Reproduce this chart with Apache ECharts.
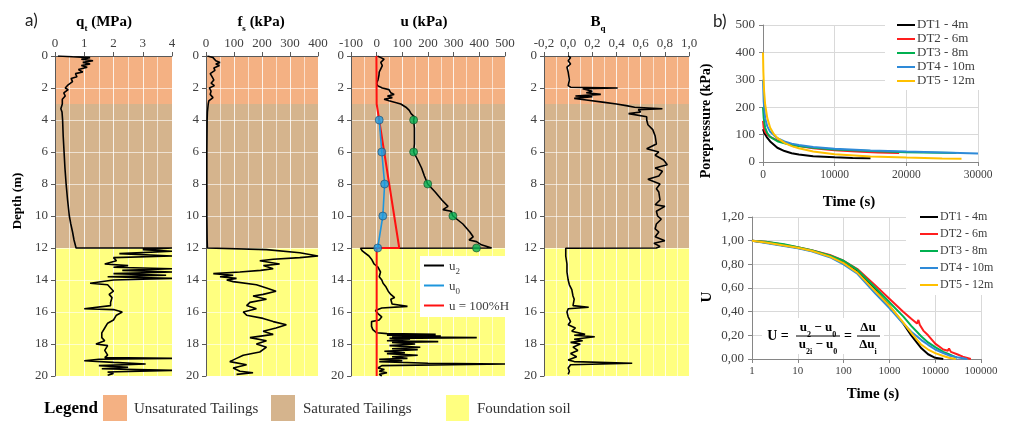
<!DOCTYPE html>
<html><head><meta charset="utf-8">
<script src="https://cdn.jsdelivr.net/npm/echarts@6/dist/echarts.min.js"></script>
<style>html,body{margin:0;padding:0;background:#fff}#c{width:1024px;height:432px}</style>
</head><body><div id="c"></div>
<script>
// ---------- DATA ----------
// Panel a) CPTu profiles: [depth (m), value]
const qtProfile = [[0,0.1],[0.05,0.6],[0.1,1.2],[0.2,0.9],[0.3,1.3],[0.4,0.95],[0.5,1.2],[0.6,0.9],[0.7,1.1],[0.85,0.8],[1.0,0.95],[1.1,0.7],[1.3,0.75],[1.4,0.55],[1.6,0.6],[1.8,0.45],[2.0,0.35],[2.1,0.45],[2.3,0.3],[2.5,0.35],[2.7,0.25],[3.0,0.25],[3.3,0.2],[3.5,0.24],[4,0.26],[5,0.28],[6,0.31],[7,0.34],[8,0.38],[9,0.43],[10,0.49],[10.5,0.54],[11,0.6],[11.5,0.65],[12,0.72],[12.0,4.0],[12.1,3.0],[12.2,4.0],[12.35,2.2],[12.5,4.0],[12.6,2.0],[12.8,2.1],[13.0,1.7],[13.1,2.5],[13.2,2.0],[13.3,4.0],[13.4,2.3],[13.5,4.0],[13.6,2.0],[13.7,3.8],[13.8,1.8],[13.9,4.0],[14.0,2.0],[14.2,1.2],[14.3,1.8],[14.5,1.9],[14.7,2.0],[14.9,1.85],[15.1,1.95],[15.4,1.9],[15.6,1.9],[15.8,1.0],[15.85,2.0],[16.0,2.3],[16.2,2.1],[16.5,2.0],[16.7,1.8],[17.0,1.7],[17.3,1.6],[17.6,1.6],[17.8,1.7],[18.0,1.4],[18.1,1.8],[18.4,1.7],[18.7,1.8],[18.85,1.7],[18.9,4.0],[18.95,1.5],[19.05,1.0],[19.15,2.0],[19.25,3.1],[19.35,1.5],[19.45,2.5],[19.55,1.6],[19.65,4.0],[19.75,1.8],[19.85,2.0],[19.95,1.8]];
const fsProfile = [[0,5],[0.1,25],[0.2,20],[0.3,35],[0.4,50],[0.5,35],[0.6,48],[0.75,28],[0.9,32],[1.1,15],[1.3,22],[1.5,28],[1.7,18],[1.85,30],[2.0,12],[2.2,18],[2.4,15],[2.6,25],[2.8,10],[3.0,8],[3.5,5],[4,4],[6,3],[8,3],[10,3],[11.5,4],[12,5],[12.1,216],[12.3,335],[12.5,400],[12.6,335],[12.7,240],[12.8,192],[13.0,263],[13.1,205],[13.3,240],[13.4,195],[13.5,121],[13.6,26],[13.7,97],[13.8,50],[13.9,109],[14.0,74],[14.1,97],[14.3,180],[14.5,216],[14.7,250],[14.9,204],[15.0,168],[15.2,216],[15.4,157],[15.6,145],[15.8,180],[16.0,133],[16.2,145],[16.4,204],[16.6,240],[16.8,287],[17.0,250],[17.2,204],[17.4,240],[17.6,157],[17.8,216],[18.0,180],[18.2,216],[18.5,192],[18.7,133],[18.9,109],[19.1,85],[19.3,145],[19.5,97],[19.7,121],[19.8,168],[19.9,109]];
const u2Profile = [[0,3],[0.1,16],[0.2,29],[0.4,16],[0.6,22],[0.8,16],[1.0,10],[1.2,9],[1.5,5],[1.7,0],[1.85,3],[2.0,22],[2.1,48],[2.3,55],[2.4,68],[2.5,42],[2.6,61],[2.7,29],[2.8,48],[3.0,94],[3.2,114],[3.4,127],[3.6,134],[3.8,147],[4.0,144],[4.5,147],[5.0,147],[5.5,147],[6.0,144],[6.5,160],[7.0,175],[7.5,186],[8.0,199],[8.5,228],[9.0,254],[9.4,278],[9.6,258],[9.7,290],[10.0,297],[10.5,336],[11.0,363],[11.3,376],[11.5,360],[11.6,389],[11.8,408],[12.0,448],[12.02,-63],[12.2,-55],[12.5,-30],[12.7,-20],[13.0,-10],[13.2,5],[13.5,15],[13.8,10],[14.0,20],[14.2,25],[14.4,35],[14.7,45],[14.9,55],[15.1,70],[15.2,55],[15.5,60],[15.65,120],[15.75,20],[15.9,-5],[16.1,5],[16.3,20],[16.5,10],[16.6,-20],[16.9,-20],[17.1,-15],[17.3,0],[17.35,40],[17.4,230],[17.45,40],[17.5,250],[17.55,60],[17.6,390],[17.65,50],[17.7,130],[17.8,40],[17.85,240],[17.9,60],[18.0,150],[18.1,50],[18.2,170],[18.3,60],[18.35,160],[18.45,30],[18.55,110],[18.6,40],[18.7,160],[18.8,60],[18.9,120],[18.95,10],[19.05,100],[19.1,10],[19.2,200],[19.25,500],[19.35,20],[19.5,5],[19.6,30],[19.7,10],[19.8,40],[19.9,10],[20,20]];
const u0Points = [[4,10],[6,20],[8,31],[10,24],[12,4]];
const u2Points = [[4,144],[6,144],[8,199],[10,297],[12,389]];
const uHydro = [[0,-1],[3,0],[12,88],[12,0],[20,0]];
const bqProfile = [[0,0.0],[0.1,0.02],[0.3,0.0],[0.5,0.02],[0.7,-0.01],[1.0,0.0],[1.5,0.01],[1.85,0.0],[1.95,0.02],[2.0,0.41],[2.05,0.12],[2.2,0.2],[2.3,0.15],[2.4,0.27],[2.5,0.06],[2.55,0.2],[2.65,0.05],[2.75,0.15],[2.9,0.3],[3.0,0.4],[3.1,0.48],[3.2,0.55],[3.3,0.78],[3.35,0.58],[3.5,0.6],[3.6,0.5],[3.8,0.65],[4.0,0.65],[4.3,0.66],[4.6,0.7],[5.0,0.72],[5.5,0.73],[5.8,0.65],[6.0,0.75],[6.2,0.72],[6.5,0.79],[6.8,0.82],[7.0,0.72],[7.2,0.78],[7.5,0.75],[7.7,0.66],[8.0,0.76],[8.3,0.73],[8.5,0.75],[9.0,0.76],[9.3,0.72],[9.4,0.8],[9.7,0.73],[10.0,0.74],[10.2,0.77],[10.5,0.73],[10.8,0.72],[11.0,0.75],[11.3,0.72],[11.55,0.8],[11.7,0.71],[11.9,0.76],[12.0,0.73],[12.02,-0.02],[12.5,-0.02],[13,-0.01],[13.5,-0.01],[14.0,0.0],[14.3,0.01],[14.6,0.03],[15.0,0.04],[15.2,0.05],[15.6,0.04],[15.7,0.17],[15.8,0.0],[16.0,-0.01],[16.3,0.0],[16.6,0.02],[16.8,0.0],[17.0,0.06],[17.2,0.03],[17.4,0.14],[17.45,0.05],[17.55,0.22],[17.7,0.05],[17.8,0.12],[17.9,0.02],[18.0,0.1],[18.2,0.04],[18.4,0.08],[18.6,0.02],[18.8,0.07],[19.0,0.0],[19.1,0.05],[19.2,0.53],[19.3,0.02],[19.5,0.0],[19.7,0.01],[19.9,0.0]];
// Layer boundaries (m)
const layerNames = ['Unsaturated Tailings','Saturated Tailings','Foundation soil'];
const layerTop = [0, 3, 12];
const layerBottom = [3, 12, 20];
// Panel b) dissipation tests
const dtNames = ['DT1 - 4m','DT2 - 6m','DT3 - 8m','DT4 - 10m','DT5 - 12m'];
// [time (s), porepressure (kPa)]
const pp1 = [[0,120],[200,105],[500,92],[1000,75],[2000,52],[3000,40],[4000,32],[5000,27],[7000,21],[10000,17],[12500,15],[15000,14]];
const pp2 = [[0,150],[100,125],[300,110],[600,100],[1000,92],[2000,79],[3000,70],[4000,62],[4300,57],[4600,62],[5000,58],[7000,50],[10000,43],[13000,38],[16000,35],[19000,33]];
const pp3 = [[0,200],[100,160],[300,125],[600,105],[1000,92],[2000,76],[3000,68],[4000,62],[5000,58],[7000,52],[10000,46],[15000,40],[20000,36],[27000,33]];
const pp4 = [[0,300],[100,220],[300,160],[600,130],[1000,110],[2000,87],[3000,75],[4000,67],[5000,62],[7000,55],[10000,48],[15000,42],[20000,38],[25000,35],[30000,31]];
const pp5 = [[0,400],[50,330],[150,260],[300,210],[600,160],[1000,125],[1500,102],[2000,88],[3000,70],[4000,58],[5000,50],[7000,38],[10000,28],[15000,20],[20000,16],[25000,13],[27700,12]];
// [time (s), U]
const U1 = [[1,1],[2,0.985],[5,0.96],[10,0.94],[20,0.915],[50,0.87],[100,0.815],[200,0.74],[500,0.58],[1000,0.45],[2000,0.3],[3000,0.2],[5000,0.09],[7000,0.04],[10000,0.01],[15000,0]];
const U2 = [[1,1],[2,0.99],[5,0.965],[10,0.945],[20,0.92],[50,0.88],[100,0.83],[200,0.76],[500,0.62],[1000,0.51],[2000,0.4],[3000,0.34],[4000,0.3],[4300,0.33],[4600,0.29],[5000,0.3],[5500,0.24],[7000,0.2],[10000,0.13],[15000,0.08],[19000,0.07],[20000,0.09],[22000,0.06],[30000,0.04],[40000,0.02],[60000,0]];
const U3 = [[1,1],[2,0.99],[5,0.97],[10,0.945],[20,0.92],[50,0.875],[100,0.83],[200,0.755],[500,0.6],[1000,0.48],[2000,0.36],[3000,0.28],[5000,0.19],[7000,0.14],[10000,0.1],[15000,0.06],[20000,0.04],[30000,0.01]];
const U4 = [[1,1],[2,0.98],[5,0.955],[10,0.935],[20,0.91],[50,0.86],[100,0.8],[200,0.72],[500,0.55],[1000,0.43],[2000,0.3],[3000,0.23],[5000,0.16],[7000,0.12],[10000,0.08],[15000,0.05],[20000,0.03],[30000,0.015],[50000,0]];
const U5 = [[1,1],[2,0.985],[5,0.96],[10,0.94],[20,0.915],[50,0.865],[100,0.81],[200,0.73],[500,0.57],[1000,0.45],[2000,0.31],[3000,0.22],[5000,0.12],[7000,0.08],[10000,0.05],[15000,0.025],[20000,0.01],[28000,0]];

// ---------- STYLE ----------
const SERIF = 'Liberation Serif';
const layerColors = ['#F4B183','#D5B48D','#FFFF80'];
const dtColors = ['#000000','#FF1E1E','#00B050','#2E8AD8','#FFC000'];
const gridWhite = 'rgba(255,255,255,0.6)';
const axisGrey = '#595959';
const labelGrey = '#404040';
const comma = (v, d) => v.toFixed(d).replace('.', ',');
const swap = arr => arr.map(p => [p[1], p[0]]);

const chart = echarts.init(document.getElementById('c'), null, {renderer: 'canvas'});

const profLefts = [55, 206, 351, 544];
const profWidths = [117, 112, 154, 145];
const profX = [
  {min: 0, max: 4, interval: 1, fmt: v => String(v)},
  {min: 0, max: 400, interval: 100, fmt: v => String(v)},
  {min: -100, max: 500, interval: 100, fmt: v => String(v)},
  {min: -0.2, max: 1.0, interval: 0.2, fmt: v => comma(v, 1)}
];

const grids = [];
const xAxes = [];
const yAxes = [];
const series = [];

profLefts.forEach((l, i) => {
  grids.push({left: l, top: 56, width: profWidths[i], height: 320});
  xAxes.push({
    type: 'value', gridIndex: i, position: 'top', min: profX[i].min, max: profX[i].max, interval: profX[i].interval, z: 3,
    axisLine: {show: true, onZero: false, lineStyle: {color: axisGrey}},
    axisTick: {show: true, length: 4, lineStyle: {color: axisGrey}},
    axisLabel: {margin: 6, fontFamily: SERIF, fontSize: 13, color: labelGrey, formatter: profX[i].fmt},
    splitLine: {show: true, lineStyle: {color: gridWhite}}
  });
  yAxes.push({
    type: 'value', gridIndex: i, inverse: true, min: 0, max: 20, interval: 2, z: 3,
    axisLine: {show: true, onZero: false, lineStyle: {color: axisGrey}},
    axisTick: {show: true, length: 4, lineStyle: {color: axisGrey}},
    axisLabel: {margin: 7, fontFamily: SERIF, fontSize: 13, color: labelGrey},
    splitLine: {show: true, lineStyle: {color: gridWhite}}
  });
  series.push({
    type: 'line', xAxisIndex: i, yAxisIndex: i, data: [], z: 1, silent: true,
    markArea: {silent: true, data: layerTop.map((t, k) => [
      {yAxis: t, itemStyle: {color: layerColors[k], opacity: 1}}, {yAxis: layerBottom[k]}
    ])}
  });
});

const prof = (name, i, data, color, extra) => Object.assign({
  name, type: 'line', xAxisIndex: i, yAxisIndex: i, data: swap(data), symbol: 'none', z: 5,
  lineStyle: {color, width: 1.6}, itemStyle: {color}
}, extra || {});

series.push(prof('qt', 0, qtProfile, '#000'));
series.push(prof('fs', 1, fsProfile, '#000'));
series.push(prof('u2', 2, u2Profile, '#000'));
series.push(prof('u100', 2, uHydro, '#FF1010', {lineStyle: {color: '#FF1010', width: 2}}));
series.push(prof('u0', 2, u0Points, '#1E96DC', {lineStyle: {color: '#1E96DC', width: 1.6}}));
series.push({name: 'u0pts', type: 'scatter', xAxisIndex: 2, yAxisIndex: 2, data: swap(u0Points), symbolSize: 8, z: 6,
  itemStyle: {color: '#1E9BE0', borderColor: '#234a6a', borderWidth: 0.8}});
series.push({name: 'u2pts', type: 'scatter', xAxisIndex: 2, yAxisIndex: 2, data: swap(u2Points), symbolSize: 8, z: 6,
  itemStyle: {color: '#00B050', borderColor: '#1c4a2a', borderWidth: 0.8}});
series.push(prof('Bq', 3, bqProfile, '#000'));

// Panel b grids
grids.push({left: 763, top: 25, width: 215, height: 137});
grids.push({left: 752, top: 217, width: 229, height: 142});
const lightGrid = {show: true, lineStyle: {color: '#D9D9D9'}};
xAxes.push({type: 'value', gridIndex: 4, min: 0, max: 30000, interval: 10000,
  axisLine: {show: true, onZero: false, lineStyle: {color: '#868686'}},
  axisTick: {show: true, length: 4, lineStyle: {color: '#868686'}},
  axisLabel: {margin: 7, fontFamily: SERIF, fontSize: 11.5, color: labelGrey, formatter: v => String(v)},
  splitLine: lightGrid});
yAxes.push({type: 'value', gridIndex: 4, min: 0, max: 500, interval: 100,
  axisLine: {show: true, onZero: false, lineStyle: {color: '#868686'}},
  axisTick: {show: true, length: 4, lineStyle: {color: '#868686'}},
  axisLabel: {margin: 8, fontFamily: SERIF, fontSize: 13, color: labelGrey},
  splitLine: lightGrid});
xAxes.push({type: 'log', logBase: 10, gridIndex: 5, min: 1, max: 100000,
  axisLine: {show: true, onZero: false, lineStyle: {color: '#868686'}},
  axisTick: {show: true, length: 4, lineStyle: {color: '#868686'}},
  axisLabel: {margin: 7, fontFamily: SERIF, fontSize: 11, color: labelGrey, formatter: v => String(v)},
  splitLine: lightGrid, minorTick: {show: false}, minorSplitLine: {show: false}});
yAxes.push({type: 'value', gridIndex: 5, min: 0, max: 1.2, interval: 0.2,
  axisLine: {show: true, onZero: false, lineStyle: {color: '#868686'}},
  axisTick: {show: true, length: 4, lineStyle: {color: '#868686'}},
  axisLabel: {margin: 8, fontFamily: SERIF, fontSize: 13, color: labelGrey, formatter: v => comma(v, 2)},
  splitLine: lightGrid});

// helper axes carrying the half-step vertical grid lines of panel a
profLefts.forEach((l, i) => {
  xAxes.push({
    type: 'value', gridIndex: i, position: 'top', min: profX[i].min, max: profX[i].max, interval: profX[i].interval / 2, z: 3,
    axisLine: {show: false}, axisTick: {show: false}, axisLabel: {show: false},
    splitLine: {show: true, lineStyle: {color: gridWhite}}
  });
});

[pp1, pp2, pp3, pp4, pp5].forEach((d, k) => series.push({
  name: dtNames[k], type: 'line', xAxisIndex: 4, yAxisIndex: 4, data: d, symbol: 'none', z: 4,
  lineStyle: {color: dtColors[k], width: 2}, itemStyle: {color: dtColors[k]}
}));
[U1, U2, U3, U4, U5].forEach((d, k) => series.push({
  name: dtNames[k], type: 'line', xAxisIndex: 5, yAxisIndex: 5, data: d, symbol: 'none', z: 4,
  lineStyle: {color: dtColors[k], width: 2}, itemStyle: {color: dtColors[k]}
}));

const subRich = (size) => ({
  b: {fontFamily: SERIF, fontWeight: 'bold', fontSize: size, color: '#000', verticalAlign: 'bottom', lineHeight: size + 2},
  s: {fontFamily: SERIF, fontWeight: 'bold', fontSize: Math.round(size * 0.62), color: '#000', verticalAlign: 'bottom', lineHeight: size + 2, padding: [0, 0, -4, 0]}
});

const txt = (x, y, text, opts) => ({type: 'text', x, y, z: 20, silent: true, style: Object.assign({
  text, fontFamily: SERIF, fontSize: 13, fill: '#000', align: 'center', verticalAlign: 'middle'
}, opts || {})});

const graphics = [
  txt(25, 21, 'a)', {fontFamily: 'Lato', fontSize: 17, align: 'left', fill: '#222'}),
  txt(713, 22, 'b)', {fontFamily: 'Lato', fontSize: 17, align: 'left', fill: '#222'}),
  txt(104, 21, '{b|q}{s|t}{b| (MPa)}', {rich: subRich(15)}),
  txt(261, 21, '{b|f}{s|s}{b| (kPa)}', {rich: subRich(15)}),
  txt(424, 21, '{b|u (kPa)}', {rich: subRich(15)}),
  txt(598, 21, '{b|B}{s|q}', {rich: subRich(15)}),
  Object.assign(txt(18, 201, 'Depth (m)', {fontWeight: 'bold', fontSize: 13}), {rotation: Math.PI / 2}),
  Object.assign(txt(706, 121, 'Porepressure (kPa)', {fontWeight: 'bold', fontSize: 14}), {rotation: Math.PI / 2}),
  txt(849, 202, 'Time (s)', {fontWeight: 'bold', fontSize: 15}),
  Object.assign(txt(707, 297, 'U', {fontWeight: 'bold', fontSize: 15}), {rotation: Math.PI / 2}),
  txt(873, 394, 'Time (s)', {fontWeight: 'bold', fontSize: 15}),
  // equation
  {type: 'rect', z: 15, silent: true, shape: {x: 762, y: 318, width: 122, height: 36}, style: {fill: '#fff'}},
  txt(778, 336, 'U =', {fontWeight: 'bold', fontSize: 14}),
  txt(818, 327, '{b|u}{s|2}{b| − u}{s|0}', {rich: subRich(13)}),
  {type: 'line', z: 20, silent: true, shape: {x1: 796, y1: 336, x2: 840, y2: 336}, style: {stroke: '#000', lineWidth: 1}},
  txt(818, 344, '{b|u}{s|2i}{b| − u}{s|0}', {rich: subRich(13)}),
  txt(848, 336, '=', {fontWeight: 'bold', fontSize: 14}),
  txt(868, 327, '{b|Δu}', {rich: subRich(13)}),
  {type: 'line', z: 20, silent: true, shape: {x1: 857, y1: 336, x2: 880, y2: 336}, style: {stroke: '#000', lineWidth: 1}},
  txt(868, 344, '{b|Δu}{s|i}', {rich: subRich(13)}),
  // bottom layer legend
  txt(44, 409, 'Legend', {fontWeight: 'bold', fontSize: 17, align: 'left'}),
  {type: 'rect', z: 20, silent: true, shape: {x: 103, y: 395, width: 24, height: 26}, style: {fill: layerColors[0]}},
  txt(134, 409, layerNames[0], {fontSize: 15, align: 'left', fill: '#333'}),
  {type: 'rect', z: 20, silent: true, shape: {x: 271, y: 395, width: 24, height: 26}, style: {fill: layerColors[1]}},
  txt(303, 409, layerNames[1], {fontSize: 15, align: 'left', fill: '#333'}),
  {type: 'rect', z: 20, silent: true, shape: {x: 446, y: 395, width: 23, height: 26}, style: {fill: layerColors[2]}},
  txt(477, 409, layerNames[2], {fontSize: 15, align: 'left', fill: '#333'})
];

const option = {
  animation: false,
  backgroundColor: '#fff',
  grid: grids,
  xAxis: xAxes,
  yAxis: yAxes,
  legend: [
    {data: ['u2', 'u0', 'u100'], left: 420, top: 256, orient: 'vertical', z: 10, icon: 'rect',
     backgroundColor: '#fff', padding: [4, 1, 4, 4], itemGap: 4, itemWidth: 20, itemHeight: 2,
     formatter: n => ({u2: '{a|u}{s|2}', u0: '{a|u}{s|0}', u100: '{a|u = 100%H}'})[n],
     textStyle: {fontFamily: SERIF, fontSize: 12, color: labelGrey,
       rich: {a: {fontFamily: SERIF, fontSize: 13, color: labelGrey, lineHeight: 15, verticalAlign: 'bottom'},
              s: {fontFamily: SERIF, fontSize: 9, color: labelGrey, lineHeight: 15, verticalAlign: 'bottom', padding: [0, 0, -3, 0]}}}},
    {data: dtNames, left: 885, top: 16, orient: 'vertical', z: 10, icon: 'rect',
     backgroundColor: '#fff', padding: [2, 6, 2, 12], itemGap: 0, itemWidth: 18, itemHeight: 2,
     textStyle: {fontFamily: SERIF, fontSize: 13, color: labelGrey, lineHeight: 14, padding: [0, 0, 0, -3]}},
    {data: dtNames, left: 906, top: 207, orient: 'vertical', z: 10, icon: 'rect',
     backgroundColor: '#fff', padding: [3, 4, 3, 14], itemGap: 3, itemWidth: 18, itemHeight: 2,
     textStyle: {fontFamily: SERIF, fontSize: 12, color: labelGrey, lineHeight: 14, padding: [0, 0, 0, -3]}}
  ],
  series,
  graphic: graphics
};
chart.setOption(option);
</script>
</body></html>
